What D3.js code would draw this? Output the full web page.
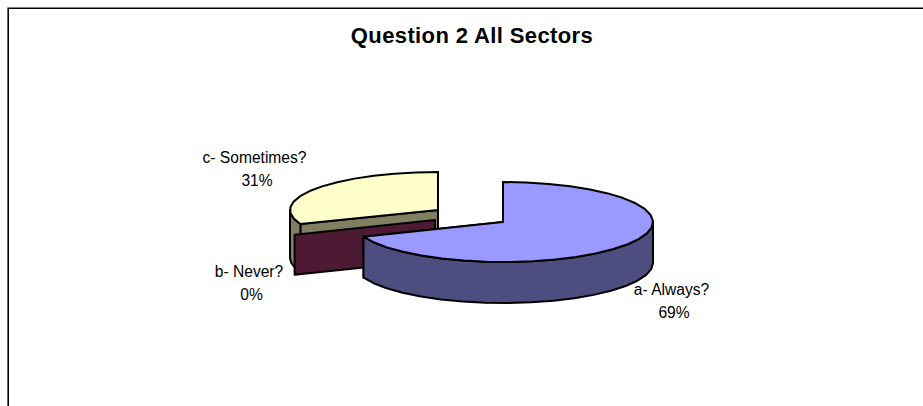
<!DOCTYPE html>
<html>
<head>
<meta charset="utf-8">
<script src="https://cdn.jsdelivr.net/npm/d3@7"></script>
<style>
  html, body { margin: 0; padding: 0; background: #fff; }
  svg { display: block; }
  text { font-family: "Liberation Sans", Arial, sans-serif; fill: #000; }
</style>
</head>
<body>
<svg id="chart" width="923" height="406"></svg>
<script>
const categories = ["a- Always?", "b- Never?", "c- Sometimes?"];
const shares = [69, 0, 31];
const chartTitle = "Question 2 All Sectors";

const topColors = ["#9999ff", "#4d1a33", "#ffffcc"];
const sideColors = ["#4d4d80", "#4d1a33", "#808060"];

// Each slice is pulled away from the middle, so it has its own centre.
const sliceCentres = [[503, 222], [435, 220], [438, 210]];
const sliceRadii = [[150, 40], [151, 40], [148, 38]];
const sliceDepths = [41, 40, 48];
const labelAnchors = [[671.5, 295], [249, 277], [254.5, 163]];

const svg = d3.select("#chart");

// Frame around the chart area: left and top edges stay inside the window.
svg.append("path")
  .attr("d", d3.line()([[8.2, 406], [8.2, 8.2], [923, 8.2]]))
  .attr("fill", "none").attr("stroke", "#000").attr("stroke-width", 1.6);

svg.append("text").attr("x", 472).attr("y", 43)
  .attr("text-anchor", "middle")
  .attr("font-size", 22).attr("font-weight", "bold")
  .attr("letter-spacing", 0.38)
  .text(chartTitle);

const arcs = d3.pie().sort(null).value(d => d)(shares);
const line = d3.line();

// Oblique projection: pie angle runs clockwise from twelve o'clock.
function projector(i) {
  const [cx, cy] = sliceCentres[i], [rx, ry] = sliceRadii[i];
  const x = d3.scaleLinear().domain([-1, 1]).range([cx - rx, cx + rx]);
  const y = d3.scaleLinear().domain([-1, 1]).range([cy - ry, cy + ry]);
  return (a, drop = 0) => [x(Math.sin(a)), y(-Math.cos(a)) + drop];
}

function rim(a0, a1, project, drop = 0) {
  const n = Math.max(1, Math.ceil((a1 - a0) / (Math.PI / 20)));
  return d3.range(n + 1).map(k => project(a0 + (a1 - a0) * k / n, drop));
}

function poly(points, fill) {
  svg.append("path").attr("d", line(points) + "Z")
    .attr("fill", fill).attr("stroke", "#000")
    .attr("stroke-width", 2).attr("stroke-linejoin", "round");
}

function drawSlice(i) {
  const p = projector(i), { startAngle: a0, endAngle: a1 } = arcs[i];
  const [cx, cy] = sliceCentres[i];
  const depth = sliceDepths[i];

  if (a1 === a0) {
    // A zero share collapses to a single upright face.
    poly([[cx, cy], p(a0), p(a0, depth), [cx, cy + depth]], topColors[i]);
    return;
  }

  // Cut faces first, then the outer wall where the rim faces the viewer.
  poly([[cx, cy], p(a0), p(a0, depth), [cx, cy + depth]], sideColors[i]);
  poly([[cx, cy], p(a1), p(a1, depth), [cx, cy + depth]], sideColors[i]);
  const wallStart = Math.max(a0, Math.PI / 2);
  const wallEnd = Math.min(a1, 3 * Math.PI / 2);
  if (wallEnd > wallStart) {
    poly([...rim(wallStart, wallEnd, p), ...rim(wallStart, wallEnd, p, depth).reverse()], sideColors[i]);
  }
  poly([[cx, cy], ...rim(a0, a1, p)], topColors[i]);
}

// Painted back to front: the yellow slice, the empty slice, then the large one.
[2, 1, 0].forEach(drawSlice);

// Two-line data labels: category name over its percentage.
categories.forEach((name, i) => {
  const [lx, ly] = labelAnchors[i];
  const label = svg.append("text").attr("text-anchor", "middle").attr("font-size", 15.6);
  label.append("tspan").attr("x", lx).attr("y", ly).text(name);
  label.append("tspan").attr("x", lx + 2.5).attr("y", ly + 22.5).text(`${shares[i]}%`);
});
</script>
</body>
</html>
